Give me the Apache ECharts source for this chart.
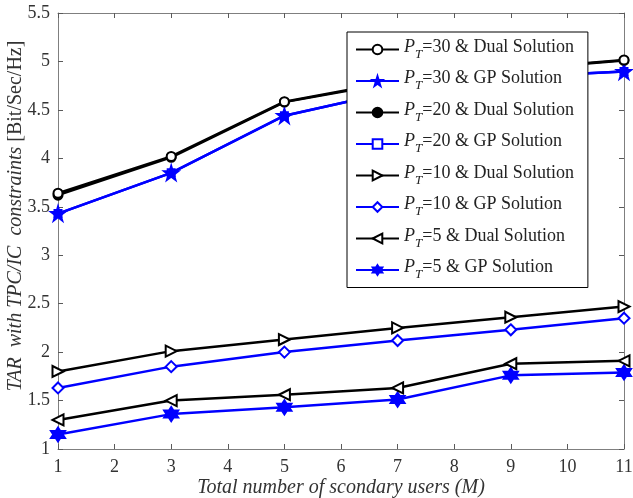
<!DOCTYPE html>
<html>
<head>
<meta charset="utf-8">
<script src="https://cdn.jsdelivr.net/npm/echarts@6/dist/echarts.min.js"></script>
<style>html,body{margin:0;padding:0;background:#fff}#c{width:633px;height:498px}</style>
</head>
<body>
<div id="c"></div>
<script>
var users = [1, 3, 5, 7, 9, 11];
var xTicks = [1,2,3,4,5,6,7,8,9,10,11];
var yTicks = [1,1.5,2,2.5,3,3.5,4,4.5,5,5.5];
var pt30Dual = [3.64, 4.02, 4.585, 4.80, 4.92, 5.015];
var pt30GP   = [3.43, 3.85, 4.44, 4.70, 4.84, 4.895];
var pt20Dual = [3.62, 4.01, 4.58, 4.79, 4.915, 5.01];
var pt20GP   = [3.43, 3.85, 4.44, 4.70, 4.84, 4.895];
var pt10Dual = [1.80, 2.01, 2.13, 2.25, 2.36, 2.47];
var pt10GP   = [1.63, 1.85, 2.00, 2.12, 2.23, 2.35];
var pt5Dual  = [1.30, 1.50, 1.56, 1.63, 1.88, 1.91];
var pt5GP    = [1.15, 1.36, 1.43, 1.51, 1.76, 1.79];
var names = ['30','30','20','20','10','10','5','5'];
var kinds = ['Dual','GP','Dual','GP','Dual','GP','Dual','GP'];

var STAR5 = 'path://M50,0 L61,35 L98,35 L68,57 L79,91 L50,70 L21,91 L32,57 L2,35 L39,35 Z';
var HEX6 = 'path://M50,0 L64,25 L93,25 L79,50 L93,75 L64,75 L50,100 L36,75 L7,75 L21,50 L7,25 L36,25 Z';
var BLK = '#000000', BLU = '#0000ff';
var FONT = '"Liberation Serif","Times New Roman",serif';

function pairs(v){ return users.map(function(x,i){ return [x, v[i]]; }); }
function ser(idx, data, color, symbol, size, rotate, fill){
  return {
    name: 'P' + names[idx] + ' ' + kinds[idx],
    type: 'line',
    data: pairs(data),
    symbol: symbol,
    symbolSize: size,
    symbolRotate: rotate || 0,
    lineStyle: {color: color, width: 2.5},
    itemStyle: {color: fill ? color : '#ffffff', borderColor: color, borderWidth: 2},
    emphasis: {disabled: true},
    animation: false,
    z: 2 + (8 - idx) * 0.01
  };
}
var series = [
  ser(0, pt30Dual, BLK, 'circle', 9, 0, false),
  ser(1, pt30GP, BLU, STAR5, 14, 0, true),
  ser(2, pt20Dual, BLK, 'circle', 9, 0, true),
  ser(3, pt20GP, BLU, 'rect', 7, 0, false),
  ser(4, pt10Dual, BLK, 'triangle', 11, -90, false),
  ser(5, pt10GP, BLU, 'diamond', 11, 0, false),
  ser(6, pt5Dual, BLK, 'triangle', 11, 90, false),
  ser(7, pt5GP, BLU, HEX6, 14, 0, true)
];
series[3].z = 1.9;

var chart = echarts.init(document.getElementById('c'), null, {renderer: 'canvas'});
var axisCommon = {
  axisLine: {show: true, lineStyle: {color: '#7f7f7f', width: 1}},
  axisTick: {show: true, inside: true, length: 5, lineStyle: {color: '#5a5a5a'}},
  splitLine: {show: false},
  nameMoveOverlap: false
};
chart.setOption({
  backgroundColor: '#ffffff',
  animation: false,
  grid: {left: 58, right: 9, top: 13, bottom: 49, containLabel: false, outerBoundsMode: 'none'},
  legend: {
    orient: 'vertical',
    left: 347, top: 32,
    padding: [6, 14, 6, 8],
    backgroundColor: '#ffffff',
    borderColor: '#000000',
    borderWidth: 1,
    borderRadius: 0,
    itemWidth: 43,
    itemHeight: 12,
    itemGap: 8.5,
    selectedMode: false,
    data: series.map(function(s){ return s.name; }),
    formatter: function(n){
      var i = series.findIndex(function(s){ return s.name === n; });
      return '{p|P}{s|T}{t|=' + names[i] + ' & ' + kinds[i] + ' Solution}';
    },
    textStyle: {
      fontFamily: FONT, fontSize: 18, color: '#222',
      rich: {
        p: {fontFamily: FONT, fontSize: 18, fontStyle: 'italic', color: '#222', verticalAlign: 'top'},
        s: {fontFamily: FONT, fontSize: 13, fontStyle: 'italic', color: '#222', verticalAlign: 'bottom', padding: [10, 0, 0, 0]},
        t: {fontFamily: FONT, fontSize: 18, color: '#222', verticalAlign: 'top'}
      }
    }
  },
  xAxis: [
    Object.assign({
      type: 'value', min: 1, max: 11, interval: 1,
      position: 'bottom',
      axisLabel: {fontFamily: FONT, fontSize: 18, color: '#333', margin: 9},
      name: 'Total number of scondary users (M)',
      nameLocation: 'middle', nameGap: 29,
      nameTextStyle: {fontFamily: FONT, fontSize: 20, fontStyle: 'italic', color: '#333'}
    }, axisCommon),
    Object.assign({
      type: 'value', min: 1, max: 11, interval: 1, position: 'top',
      axisLabel: {show: false}
    }, axisCommon)
  ],
  yAxis: [
    Object.assign({
      type: 'value', min: 1, max: 5.5, interval: 0.5,
      position: 'left',
      axisLabel: {fontFamily: FONT, fontSize: 18, color: '#333', margin: 8,
        formatter: function(v){ return String(Math.round(v*10)/10); }},
      name: '{i|TAR  with TPC/IC  constraints} {n|[Bit/Sec/Hz]}',
      nameLocation: 'middle', nameGap: 32,
      nameTextStyle: {fontFamily: FONT, fontSize: 20, color: '#333',
        padding: [0, 0, 0, 30],
        rich: {
          i: {fontFamily: FONT, fontSize: 20, fontStyle: 'italic', color: '#333'},
          n: {fontFamily: FONT, fontSize: 20, color: '#333'}
        }}
    }, axisCommon),
    Object.assign({
      type: 'value', min: 1, max: 5.5, interval: 0.5, position: 'right',
      axisLabel: {show: false}
    }, axisCommon)
  ],
  series: series
});
</script>
</body>
</html>
